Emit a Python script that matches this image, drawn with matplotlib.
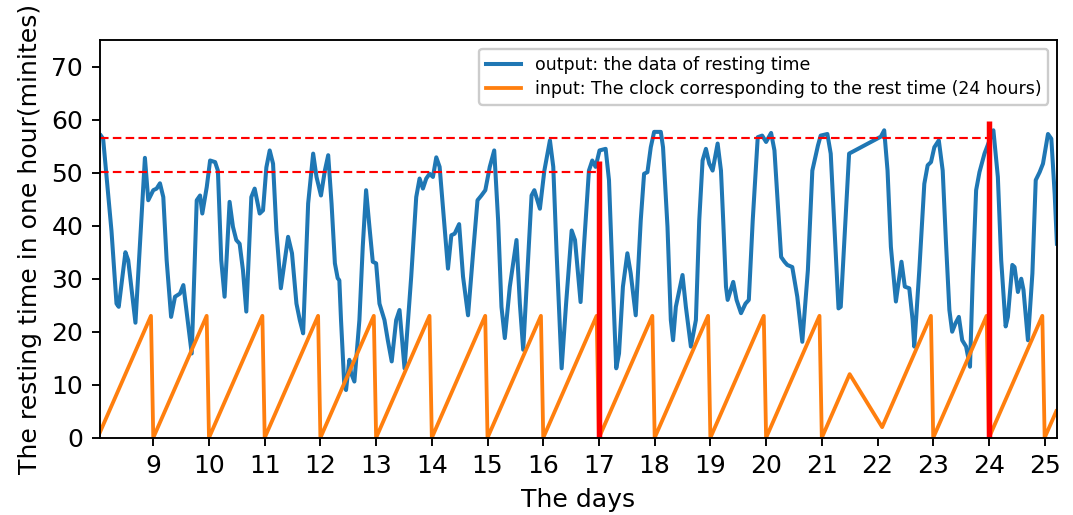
import matplotlib
matplotlib.use("Agg")
import matplotlib.pyplot as plt

# ---- output: resting time (minutes per hour), vertices ----
rest_day = [8.06, 8.10, 8.19, 8.25, 8.34, 8.38, 8.50, 8.55, 8.68, 8.85, 8.91, 9.00, 9.06, 9.12, 9.18,
            9.24, 9.32, 9.39, 9.48, 9.54, 9.69, 9.78, 9.84, 9.88, 9.96, 10.02, 10.11, 10.16, 10.22,
            10.28, 10.37, 10.43, 10.49, 10.55, 10.61, 10.67, 10.76, 10.82, 10.91, 10.97, 11.03,
            11.09, 11.15, 11.21, 11.29, 11.36, 11.42, 11.49, 11.57, 11.63, 11.69, 11.78, 11.87,
            11.93, 12.01, 12.08, 12.14, 12.20, 12.26, 12.31, 12.34, 12.37, 12.43, 12.46, 12.52,
            12.55, 12.61, 12.70, 12.76, 12.82, 12.88, 12.94, 13.00, 13.06, 13.15, 13.21, 13.28,
            13.36, 13.42, 13.51, 13.63, 13.72, 13.78, 13.84, 13.90, 13.96, 14.02, 14.08, 14.14,
            14.20, 14.29, 14.35, 14.41, 14.49, 14.56, 14.65, 14.74, 14.82, 14.89, 14.96, 15.04,
            15.12, 15.19, 15.25, 15.31, 15.40, 15.52, 15.58, 15.64, 15.72, 15.79, 15.84, 15.94,
            16.02, 16.12, 16.18, 16.24, 16.33, 16.41, 16.51, 16.57, 16.67, 16.73, 16.82, 16.88,
            16.94, 17.01, 17.12, 17.18, 17.24, 17.31, 17.36, 17.43, 17.51, 17.57, 17.66, 17.75,
            17.81, 17.87, 17.93, 17.99, 18.11, 18.15, 18.23, 18.29, 18.33, 18.38, 18.50, 18.56,
            18.65, 18.74, 18.80, 18.86, 18.92, 18.98, 19.04, 19.13, 19.19, 19.23, 19.28, 19.31,
            19.41, 19.47, 19.55, 19.63, 19.69, 19.76, 19.85, 19.93, 20.00, 20.09, 20.15, 20.21,
            20.27, 20.33, 20.38, 20.47, 20.56, 20.65, 20.75, 20.83, 20.93, 20.98, 21.10, 21.16,
            21.22, 21.30, 21.34, 21.49, 22.06, 22.12, 22.18, 22.24, 22.33, 22.43, 22.49, 22.57,
            22.63, 22.66, 22.75, 22.84, 22.90, 22.96, 23.02, 23.10, 23.17, 23.23, 23.29, 23.34,
            23.40, 23.46, 23.52, 23.59, 23.66, 23.71, 23.77, 23.83, 23.92, 24.01, 24.08, 24.16,
            24.22, 24.30, 24.34, 24.42, 24.46, 24.52, 24.58, 24.62, 24.70, 24.78, 24.84, 24.91,
            24.97, 25.06, 25.12, 25.18, 25.22]
rest_min = [57.0, 56.4, 46.0, 39.0, 25.3, 24.7, 35.0, 33.5, 21.7, 52.8, 44.8, 46.7, 47.0, 48.0, 45.4,
            33.5, 22.8, 26.6, 27.2, 28.8, 15.9, 44.8, 45.7, 42.3, 47.3, 52.3, 52.0, 50.4, 33.5,
            26.6, 44.5, 39.8, 37.3, 36.6, 31.6, 23.8, 45.4, 47.0, 42.3, 42.9, 51.0,
            54.2, 51.7, 39.1, 28.2, 33.5, 37.9, 34.8, 25.3, 22.2, 19.7, 44.2, 53.6,
            49.2, 45.7, 50.4, 53.3, 44.2, 32.9, 30.1, 29.7, 22.2, 9.7, 9.0, 14.7,
            12.2, 10.6, 22.2, 36.0, 46.7, 39.8, 33.2, 32.9, 25.3, 22.2, 18.4, 14.4,
            22.2, 24.1, 13.1, 30.4, 45.4, 48.9, 47.0, 48.9, 49.8, 49.2, 52.9, 51.1,
            43.5, 31.9, 38.2, 38.5, 40.3, 30.4, 23.1, 34.8, 44.8, 45.7, 46.7, 51.1,
            54.2, 41.0, 24.7, 18.8, 28.5, 37.3, 25.3, 16.6, 32.2, 45.7, 46.7, 43.2,
            50.4, 56.1, 51.1, 34.8, 13.1, 25.3, 39.1, 37.3, 25.6, 36.0, 50.4, 52.3,
            51.1, 54.2, 54.5, 48.6, 31.6, 13.1, 15.9, 28.5, 34.8, 31.0, 23.1, 41.0,
            49.8, 50.1, 54.8, 57.7, 57.7, 54.8, 39.8, 22.2, 18.4, 24.7, 30.7, 24.7,
            17.2, 22.2, 41.0, 52.3, 54.5, 51.7, 50.4, 55.5, 50.4, 41.0, 28.5, 26.0,
            29.4, 26.0, 23.5, 25.3, 26.0, 41.0, 56.7, 57.0, 55.8, 57.5, 54.2, 44.2,
            34.1, 33.2, 32.6, 32.2, 26.6, 18.1, 31.6, 50.4, 55.1, 57.0, 57.3, 53.6,
            41.0, 24.4, 24.7, 53.6, 56.8, 58.0, 50.4, 36.0, 25.7, 33.2, 28.5, 28.2,
            22.2, 17.2, 31.6, 47.9, 51.4, 52.0, 54.8, 56.1, 50.4, 36.6, 24.1, 20.0,
            21.6, 22.8, 18.4, 17.2, 13.4, 30.4, 46.7, 50.1, 53.6, 56.1, 58.0, 49.2,
            33.5, 21.0, 22.8, 32.6, 32.2, 27.5, 30.0, 27.9, 18.4, 31.0, 48.6, 50.1,
            51.7, 57.3, 56.4, 46.0, 36.6]

# ---- input: clock hour (0-23) of each hourly sample; hours 13 of day 21 to 1 of day 22 missing ----
seg_days = [(8, 1, 21, 12), (22, 2, 25, 5)]   # (start day, start hour, end day, end hour)

# ---- reference lines ----
upper_level = 56.6
lower_level = 50.2
mark_days = [17, 24]
mark_tops = [52.3, 59.8]

x_ticks = list(range(9, 26))
y_ticks = list(range(0, 71, 10))

clock_x, clock_h = [], []
for d0, h0, d1, h1 in seg_days:
    for d in range(d0, d1 + 1):
        hs = range(h0 if d == d0 else 0, (h1 if d == d1 else 23) + 1)
        for h in hs:
            clock_x.append(d + h / 24)
            clock_h.append(h)

DPI = 171
fig = plt.figure(figsize=(1073 / DPI, 515 / DPI), dpi=DPI)
ax = fig.add_axes([0.093, 0.150, 0.892, 0.772])

ax.plot(rest_day, rest_min, color="#1f77b4", lw=1.7,
        label="output: the data of resting time")
ax.plot(clock_x, clock_h, color="#ff7f0e", lw=1.6,
        label="input: The clock corresponding to the rest time (24 hours)")

xmin = 8.04
ax.plot([xmin, mark_days[1]], [upper_level, upper_level], color="red", ls="--", lw=0.9, dashes=(4, 2))
ax.plot([xmin, mark_days[0]], [lower_level, lower_level], color="red", ls="--", lw=0.9, dashes=(4, 2))
for d, t in zip(mark_days, mark_tops):
    ax.plot([d, d], [0, t], color="red", lw=2.3, solid_capstyle="butt")

ax.set_xlim(xmin, 25.22)
ax.set_ylim(0, 75)
ax.set_xticks(x_ticks)
ax.set_yticks(y_ticks)
ax.tick_params(labelsize=10.5)
ax.set_xlabel("The days", fontsize=10.6)
ax.set_ylabel("The resting time in one hour(minites)", fontsize=10.6)
ax.legend(loc="upper right", fontsize=7.3, framealpha=1, labelspacing=0.35)

fig.savefig("out.png", dpi=DPI)
